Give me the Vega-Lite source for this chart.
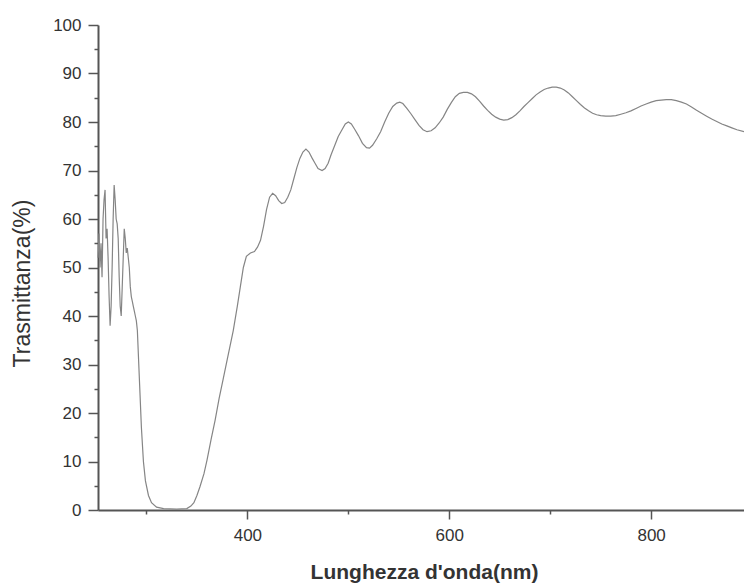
{
  "$schema": "https://vega.github.io/schema/vega-lite/v6.json",
  "width": 646,
  "height": 485,
  "autosize": "none",
  "padding": {"left": 98, "top": 25, "right": 0, "bottom": 73},
  "background": "white",
  "view": {"stroke": null},
  "config": {
    "font": "Liberation Sans",
    "axis": {"grid": false, "domainColor": "#555", "domainWidth": 2, "tickColor": "#555", "tickWidth": 1.5, "labelColor": "#333", "titleColor": "#333", "labelFont": "Liberation Sans", "titleFont": "Liberation Sans"}
  },
  "datasets": {
    "spec": [
      {"nm": 252, "T": 52}, {"nm": 253, "T": 57}, {"nm": 254, "T": 50}, {"nm": 255, "T": 55}, {"nm": 256, "T": 48},
      {"nm": 257, "T": 60}, {"nm": 258, "T": 64}, {"nm": 259, "T": 66}, {"nm": 260, "T": 56}, {"nm": 261, "T": 58},
      {"nm": 262, "T": 52}, {"nm": 263, "T": 44}, {"nm": 264, "T": 38}, {"nm": 265, "T": 42}, {"nm": 266, "T": 50},
      {"nm": 267, "T": 60}, {"nm": 268, "T": 67}, {"nm": 269, "T": 64}, {"nm": 270, "T": 60}, {"nm": 271, "T": 59},
      {"nm": 272, "T": 56}, {"nm": 273, "T": 48}, {"nm": 274, "T": 42}, {"nm": 275, "T": 40}, {"nm": 276, "T": 46},
      {"nm": 277, "T": 52}, {"nm": 278, "T": 58}, {"nm": 279, "T": 56}, {"nm": 280, "T": 53}, {"nm": 281, "T": 54},
      {"nm": 282, "T": 52}, {"nm": 283, "T": 50}, {"nm": 284, "T": 46}, {"nm": 285, "T": 44}, {"nm": 286, "T": 43},
      {"nm": 287, "T": 42}, {"nm": 288, "T": 41}, {"nm": 289, "T": 40}, {"nm": 290, "T": 39}, {"nm": 291, "T": 37},
      {"nm": 293, "T": 27}, {"nm": 295, "T": 17}, {"nm": 297, "T": 10}, {"nm": 299, "T": 6}, {"nm": 302, "T": 3},
      {"nm": 305, "T": 1.5}, {"nm": 310, "T": 0.6}, {"nm": 317, "T": 0.3}, {"nm": 330, "T": 0.2}, {"nm": 340, "T": 0.3},
      {"nm": 344, "T": 0.8}, {"nm": 347, "T": 1.5}, {"nm": 350, "T": 3}, {"nm": 353, "T": 4.8}, {"nm": 357, "T": 7.5},
      {"nm": 360, "T": 10.3}, {"nm": 364, "T": 14.5}, {"nm": 368, "T": 18.5}, {"nm": 372, "T": 23}, {"nm": 376, "T": 27},
      {"nm": 380, "T": 31}, {"nm": 383, "T": 34}, {"nm": 386, "T": 37}, {"nm": 390, "T": 42}, {"nm": 393, "T": 46},
      {"nm": 396, "T": 50}, {"nm": 399, "T": 52.3}, {"nm": 403, "T": 53}, {"nm": 407, "T": 53.3}, {"nm": 410, "T": 54.2},
      {"nm": 413, "T": 55.6}, {"nm": 416, "T": 58.5}, {"nm": 419, "T": 62}, {"nm": 422, "T": 64.5}, {"nm": 425, "T": 65.3},
      {"nm": 428, "T": 64.8}, {"nm": 431, "T": 63.8}, {"nm": 434, "T": 63.2}, {"nm": 437, "T": 63.4}, {"nm": 440, "T": 64.5},
      {"nm": 443, "T": 66}, {"nm": 446, "T": 68.3}, {"nm": 449, "T": 70.6}, {"nm": 452, "T": 72.5}, {"nm": 455, "T": 73.8},
      {"nm": 458, "T": 74.4}, {"nm": 461, "T": 73.8}, {"nm": 464, "T": 72.6}, {"nm": 467, "T": 71.5}, {"nm": 470, "T": 70.4},
      {"nm": 474, "T": 70}, {"nm": 477, "T": 70.4}, {"nm": 480, "T": 71.5}, {"nm": 483, "T": 73.3}, {"nm": 487, "T": 75.4},
      {"nm": 490, "T": 77}, {"nm": 494, "T": 78.5}, {"nm": 497, "T": 79.6}, {"nm": 500, "T": 80}, {"nm": 503, "T": 79.6},
      {"nm": 506, "T": 78.6}, {"nm": 510, "T": 77.2}, {"nm": 514, "T": 75.6}, {"nm": 518, "T": 74.7}, {"nm": 521, "T": 74.6},
      {"nm": 524, "T": 75.2}, {"nm": 528, "T": 76.5}, {"nm": 532, "T": 78}, {"nm": 536, "T": 80}, {"nm": 540, "T": 81.8},
      {"nm": 544, "T": 83.2}, {"nm": 548, "T": 83.9}, {"nm": 551, "T": 84.1}, {"nm": 554, "T": 83.8}, {"nm": 558, "T": 82.8},
      {"nm": 562, "T": 81.7}, {"nm": 566, "T": 80.5}, {"nm": 570, "T": 79.3}, {"nm": 574, "T": 78.4}, {"nm": 578, "T": 78},
      {"nm": 582, "T": 78.2}, {"nm": 586, "T": 78.8}, {"nm": 590, "T": 79.8}, {"nm": 594, "T": 81}, {"nm": 598, "T": 82.6},
      {"nm": 602, "T": 84}, {"nm": 606, "T": 85.2}, {"nm": 610, "T": 85.9}, {"nm": 614, "T": 86.1}, {"nm": 618, "T": 86.1},
      {"nm": 622, "T": 85.8}, {"nm": 626, "T": 85.2}, {"nm": 630, "T": 84.3}, {"nm": 634, "T": 83.3}, {"nm": 638, "T": 82.4},
      {"nm": 642, "T": 81.6}, {"nm": 646, "T": 81}, {"nm": 650, "T": 80.6}, {"nm": 654, "T": 80.4}, {"nm": 658, "T": 80.5},
      {"nm": 662, "T": 80.9}, {"nm": 666, "T": 81.5}, {"nm": 670, "T": 82.3}, {"nm": 674, "T": 83.2}, {"nm": 678, "T": 84},
      {"nm": 682, "T": 84.8}, {"nm": 686, "T": 85.6}, {"nm": 690, "T": 86.2}, {"nm": 694, "T": 86.7}, {"nm": 698, "T": 87},
      {"nm": 702, "T": 87.2}, {"nm": 706, "T": 87.2}, {"nm": 710, "T": 87}, {"nm": 714, "T": 86.6}, {"nm": 718, "T": 86},
      {"nm": 722, "T": 85.2}, {"nm": 726, "T": 84.4}, {"nm": 730, "T": 83.6}, {"nm": 734, "T": 82.9}, {"nm": 738, "T": 82.3},
      {"nm": 742, "T": 81.8}, {"nm": 746, "T": 81.5}, {"nm": 750, "T": 81.3}, {"nm": 755, "T": 81.2}, {"nm": 760, "T": 81.2},
      {"nm": 765, "T": 81.3}, {"nm": 770, "T": 81.6}, {"nm": 775, "T": 81.9}, {"nm": 780, "T": 82.3}, {"nm": 785, "T": 82.8},
      {"nm": 790, "T": 83.3}, {"nm": 795, "T": 83.7}, {"nm": 800, "T": 84.1}, {"nm": 805, "T": 84.4}, {"nm": 810, "T": 84.5},
      {"nm": 815, "T": 84.6}, {"nm": 820, "T": 84.6}, {"nm": 825, "T": 84.4}, {"nm": 830, "T": 84.1}, {"nm": 835, "T": 83.7},
      {"nm": 840, "T": 83.1}, {"nm": 845, "T": 82.4}, {"nm": 850, "T": 81.8}, {"nm": 855, "T": 81.2}, {"nm": 860, "T": 80.6},
      {"nm": 865, "T": 80.1}, {"nm": 870, "T": 79.6}, {"nm": 875, "T": 79.2}, {"nm": 880, "T": 78.8}, {"nm": 885, "T": 78.4},
      {"nm": 892, "T": 78}
    ]
  },
  "resolve": {"axis": {"x": "independent", "y": "independent"}},
  "layer": [
    {
      "data": {"name": "spec"},
      "mark": {"type": "line", "color": "#858585", "strokeWidth": 1.2},
      "encoding": {
        "x": {"field": "nm", "type": "quantitative", "scale": {"domain": [252, 892], "nice": false, "zero": false},
          "axis": {"orient": "bottom", "values": [400, 600, 800], "tickSize": 9, "labelPadding": 8, "labelFontSize": 17, "title": "Lunghezza d'onda(nm)", "titleFontSize": 21, "titleFontWeight": "bold", "titleX": 326, "titleY": 68, "titleBaseline": "alphabetic", "titleAlign": "center", "titleAnchor": null}},
        "y": {"field": "T", "type": "quantitative", "scale": {"domain": [0, 100], "nice": false},
          "axis": {"orient": "left", "values": [0, 10, 20, 30, 40, 50, 60, 70, 80, 90, 100], "tickSize": 10, "labelPadding": 7, "labelFontSize": 17, "title": "Trasmittanza(%)", "titleFontSize": 23, "titleFontWeight": "normal", "titleAngle": -90, "titleX": -76, "titleY": 258, "titleAlign": "center", "titleBaseline": "middle", "titleAnchor": null}}
      }
    },
    {
      "data": {"name": "spec"},
      "mark": {"type": "line", "opacity": 0},
      "encoding": {
        "x": {"field": "nm", "type": "quantitative",
          "axis": {"orient": "bottom", "values": [300, 500, 700], "tickSize": 4, "labels": false, "domain": false, "title": null}},
        "y": {"field": "T", "type": "quantitative",
          "axis": {"orient": "left", "values": [5, 15, 25, 35, 45, 55, 65, 75, 85, 95], "tickSize": 4, "labels": false, "domain": false, "title": null}}
      }
    },
    {
      "mark": {"type": "rule", "color": "#555", "strokeWidth": 2},
      "encoding": {"y": {"datum": 100, "type": "quantitative", "axis": null}}
    }
  ]
}
